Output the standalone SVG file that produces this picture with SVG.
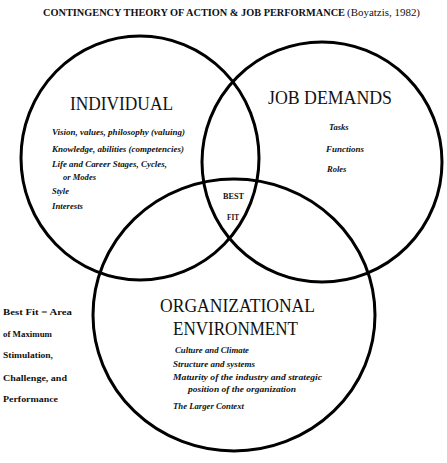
<svg xmlns="http://www.w3.org/2000/svg" width="447" height="463" viewBox="0 0 447 463">
<style>
text{fill:#111}
.title{font-size:10px;font-weight:bold}
.head{font-size:18px}
.item{font-size:8.5px;font-style:italic;font-weight:bold}
.bf{font-size:7.5px;font-weight:bold}
.note{font-size:9px;font-weight:bold}
.ring{fill:none;stroke:#000;stroke-width:3}
</style>
<rect width="447" height="463" fill="#fff"/>
<g font-family="Liberation Serif, Times New Roman, serif">
<text class="title" x="43" y="16" textLength="302" lengthAdjust="spacingAndGlyphs">CONTINGENCY THEORY OF ACTION &amp; JOB PERFORMANCE</text>
<text x="347" y="16" style="font-size:10px" textLength="73" lengthAdjust="spacingAndGlyphs">(Boyatzis, 1982)</text>
<g id="connectors"></g>
<g id="individual">
<ellipse class="ring" cx="140" cy="158" rx="119" ry="122"/>
<text class="head" x="70" y="110" textLength="103" lengthAdjust="spacingAndGlyphs">INDIVIDUAL</text>
<text class="item" x="52" y="135" textLength="133" lengthAdjust="spacingAndGlyphs">Vision, values, philosophy (valuing)</text>
<text class="item" x="52" y="152" textLength="132" lengthAdjust="spacingAndGlyphs">Knowledge, abilities (competencies)</text>
<text class="item" x="52" y="167" textLength="115" lengthAdjust="spacingAndGlyphs">Life and Career Stages, Cycles,</text>
<text class="item" x="63" y="180" textLength="33" lengthAdjust="spacingAndGlyphs">or Modes</text>
<text class="item" x="52" y="194">Style</text>
<text class="item" x="52" y="209" textLength="31" lengthAdjust="spacingAndGlyphs">Interests</text>
</g>
<g id="job-demands">
<ellipse class="ring" cx="322" cy="162" rx="120" ry="120"/>
<text class="head" x="268" y="104" textLength="124" lengthAdjust="spacingAndGlyphs">JOB DEMANDS</text>
<text class="item" x="329" y="130">Tasks</text>
<text class="item" x="326" y="152" textLength="38" lengthAdjust="spacingAndGlyphs">Functions</text>
<text class="item" x="327" y="172">Roles</text>
</g>
<g id="organizational-environment">
<ellipse class="ring" cx="234" cy="315" rx="141" ry="136"/>
<text class="head" x="160" y="312" textLength="155" lengthAdjust="spacingAndGlyphs">ORGANIZATIONAL</text>
<text class="head" x="173" y="335" textLength="125" lengthAdjust="spacingAndGlyphs">ENVIRONMENT</text>
<text class="item" x="175" y="353" textLength="74" lengthAdjust="spacingAndGlyphs">Culture and Climate</text>
<text class="item" x="173" y="367" textLength="82" lengthAdjust="spacingAndGlyphs">Structure and systems</text>
<text class="item" x="173" y="380" textLength="149" lengthAdjust="spacingAndGlyphs">Maturity of the industry and strategic</text>
<text class="item" x="188" y="392" textLength="108" lengthAdjust="spacingAndGlyphs">position of the organization</text>
<text class="item" x="173" y="409" textLength="71" lengthAdjust="spacingAndGlyphs">The Larger Context</text>
</g>
<g id="best-fit">
<text class="bf" x="223" y="199" textLength="21" lengthAdjust="spacingAndGlyphs">BEST</text>
<text class="bf" x="227" y="220" textLength="12" lengthAdjust="spacingAndGlyphs">FIT</text>
</g>
<g id="legend">
<text class="note" x="3" y="315" textLength="69" lengthAdjust="spacingAndGlyphs">Best Fit = Area</text>
<text class="note" x="3" y="337" textLength="49" lengthAdjust="spacingAndGlyphs">of Maximum</text>
<text class="note" x="3" y="358" textLength="50" lengthAdjust="spacingAndGlyphs">Stimulation,</text>
<text class="note" x="3" y="381" textLength="64" lengthAdjust="spacingAndGlyphs">Challenge, and</text>
<text class="note" x="3" y="402" textLength="55" lengthAdjust="spacingAndGlyphs">Performance</text>
</g>
</g>
</svg>
